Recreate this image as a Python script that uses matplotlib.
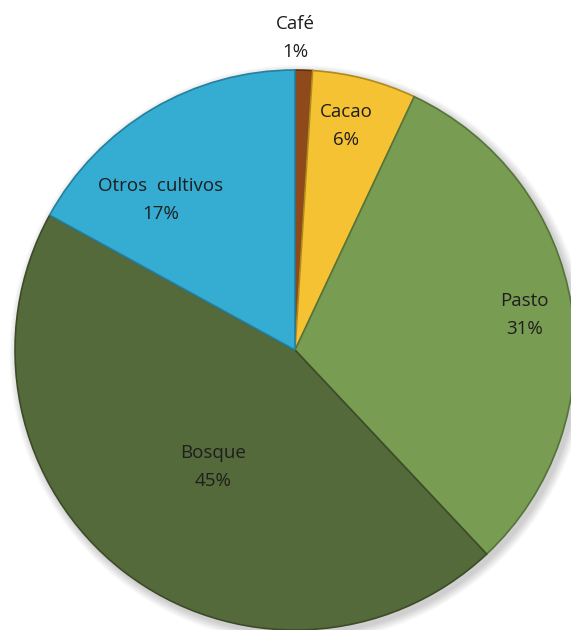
import matplotlib
matplotlib.use('Agg')
import matplotlib.pyplot as plt
import numpy as np
from matplotlib.patches import Circle

# land use shares (%)
labels = ['Café', 'Cacao', 'Pasto', 'Bosque', 'Otros  cultivos']
shares = [1, 6, 31, 45, 17]
colors = ['#8f4a1c', '#f4c232', '#789c52', '#556a3a', '#35acd2']
edges = ['#5e2f10', '#b08a1c', '#56733a', '#3c4c28', '#24809e']

# where each label sits: fraction of radius, angle tweak in degrees
label_r = [1.115, 0.82, 0.83, 0.51, 0.72]
label_da = [1.8, 1.5, -0.3, 2.8, 11.2]

fig = plt.figure(figsize=(5.71, 6.3), dpi=100)
ax = fig.add_axes([0.0263, 0.0, 0.9807, 0.8889])

# soft drop shadow under the pie
for i in range(8):
    ax.add_patch(Circle((0.012, -0.014), 1.0 + 0.004 * (8 - i), color='black',
                        alpha=0.025, lw=0, zorder=0, clip_on=False))

wedges, _ = ax.pie(shares, colors=colors, startangle=90, counterclock=False,
                   radius=1.0, wedgeprops=dict(linewidth=1.2), frame=False)
for w, ec in zip(wedges, edges):
    w.set_edgecolor(ec)
    w.set_clip_on(False)
    w.set_zorder(2)

ax.set_xlim(-1, 1)
ax.set_ylim(-1, 1)
ax.set_aspect('equal')
ax.axis('off')

for w, lab, val, r, da in zip(wedges, labels, shares, label_r, label_da):
    ang = np.deg2rad((w.theta1 + w.theta2) / 2 + da)
    x, y = r * np.cos(ang), r * np.sin(ang)
    ax.text(x, y, f'{lab}\n{val}%', ha='center', va='center', fontsize=13.5,
            family=['Open Sans', 'DejaVu Sans'], color='#1e1e1e',
            linespacing=1.7, zorder=3, clip_on=False)

fig.savefig('out.png', dpi=100, facecolor='white')
